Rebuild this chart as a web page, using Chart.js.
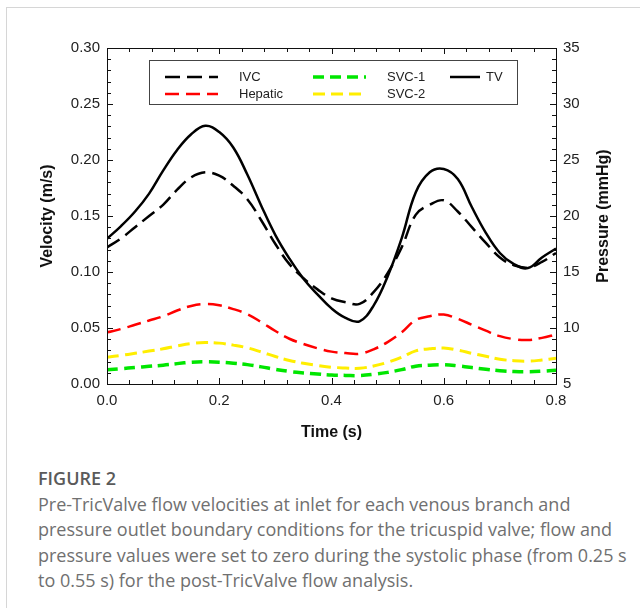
<!DOCTYPE html>
<html>
<head>
<meta charset="utf-8">
<script src="https://cdn.jsdelivr.net/npm/chart.js@4.4.0/dist/chart.umd.min.js"></script>
<style>
  body { margin: 0; background: #fff; width: 640px; height: 608px; overflow: hidden; position: relative; }
  .frame { position: absolute; left: 6px; top: 7px; width: 700px; height: 700px;
           border-left: 1px solid #d6d6d6; border-top: 1px solid #d6d6d6; }
  #wrap { position: absolute; left: 0; top: 0; width: 640px; height: 450px; }
  .cap { position: absolute; left: 38px; top: 466px; color: #707070; font-family: "Open Sans", sans-serif;
         font-size: 18px; line-height: 25.5px; white-space: nowrap; }
  .cap .fig { color: #5a5a5a; font-weight: 600; font-size: 18px; display: block; }
</style>
</head>
<body>
<div class="frame"></div>
<div id="wrap"><canvas id="myChart" width="640" height="450"></canvas></div>
<div class="cap">
  <span class="fig">FIGURE 2</span>
  Pre-TricValve flow velocities at inlet for each venous branch and<br>
  pressure outlet boundary conditions for the tricuspid valve; flow and<br>
  pressure values were set to zero during the systolic phase (from 0.25 s<br>
  to 0.55 s) for the post-TricValve flow analysis.
</div>
<script>
// time (s)
const times = [0, 0.025, 0.05, 0.075, 0.1, 0.125, 0.15, 0.175, 0.2, 0.225, 0.25, 0.275, 0.3, 0.325,
  0.35, 0.375, 0.4, 0.425, 0.45, 0.475, 0.5, 0.525, 0.55, 0.575, 0.6, 0.625, 0.65, 0.675,
  0.7, 0.725, 0.75, 0.775, 0.8];

// velocities (m/s)
const ivc = [0.122, 0.130, 0.140, 0.150, 0.160, 0.1735, 0.1845, 0.189, 0.186, 0.177, 0.165, 0.146, 0.125,
  0.107, 0.0945, 0.0845, 0.0765, 0.073, 0.0715, 0.082, 0.099, 0.122, 0.151, 0.160, 0.164, 0.154,
  0.140, 0.126, 0.113, 0.106, 0.104, 0.109, 0.117];
const hepatic = [0.0461, 0.0491, 0.0529, 0.0567, 0.0605, 0.0656, 0.0697, 0.0714, 0.0703, 0.0669, 0.0624,
  0.0552, 0.0473, 0.0404, 0.0357, 0.0319, 0.0289, 0.0276, 0.0270, 0.0310, 0.0374, 0.0461, 0.0571,
  0.0605, 0.0620, 0.0582, 0.0529, 0.0476, 0.0427, 0.0401, 0.0393, 0.0412, 0.0442];
const svc1 = [0.0128, 0.0137, 0.0147, 0.0158, 0.0168, 0.0182, 0.0194, 0.0198, 0.0195, 0.0186, 0.0173,
  0.0153, 0.0131, 0.0112, 0.0099, 0.0089, 0.0080, 0.0077, 0.0075, 0.0086, 0.0104, 0.0128, 0.0159,
  0.0168, 0.0172, 0.0162, 0.0147, 0.0132, 0.0119, 0.0111, 0.0109, 0.0114, 0.0123];
const svc2 = [0.0239, 0.0255, 0.0274, 0.0294, 0.0314, 0.0340, 0.0362, 0.0370, 0.0365, 0.0347, 0.0323,
  0.0286, 0.0245, 0.0210, 0.0185, 0.0166, 0.0150, 0.0143, 0.0140, 0.0161, 0.0194, 0.0239, 0.0296,
  0.0314, 0.0321, 0.0302, 0.0274, 0.0247, 0.0221, 0.0208, 0.0204, 0.0214, 0.0229];

// tricuspid valve pressure (mmHg)
const tv = [17.97, 19.1, 20.4, 22.0, 24.05, 25.9, 27.3, 28.06, 27.5, 26.12, 23.7, 20.9, 18.3, 16.2,
  14.4, 13.0, 11.75, 10.9, 10.6, 12.0, 14.6, 18.0, 22.1, 23.9, 24.2, 23.3, 20.8, 18.5, 16.7, 15.7,
  15.35, 16.3, 17.1];

const velTicks = [0, 0.05, 0.1, 0.15, 0.2, 0.25, 0.3];
const presTicks = [5, 10, 15, 20, 25, 30, 35];
const timeTicks = [0, 0.2, 0.4, 0.6, 0.8];

const pts = arr => arr.map((v, i) => ({x: times[i], y: v}));
const FONT = '"Liberation Sans", Arial, sans-serif';

// frame, inward ticks, axis titles and legend box
const decorations = {
  id: 'decorations',
  afterDraw(chart) {
    const {ctx, chartArea: a, scales} = chart;
    ctx.save();
    ctx.strokeStyle = '#111';
    ctx.lineWidth = 1;
    ctx.strokeRect(Math.round(a.left) + 0.5, Math.round(a.top) + 0.5,
      Math.round(a.right - a.left), Math.round(a.bottom - a.top));

    const line = (x1, y1, x2, y2) => { ctx.beginPath(); ctx.moveTo(x1, y1); ctx.lineTo(x2, y2); ctx.stroke(); };
    for (let i = 0; i <= 20; i++) {
      const x = Math.round(scales.x.getPixelForValue(i * 0.04)) + 0.5;
      const len = i % 5 === 0 ? 6 : 4;
      line(x, a.bottom, x, a.bottom - len);
      line(x, a.top, x, a.top + len);
    }
    for (let i = 0; i <= 30; i++) {
      const y = Math.round(scales.y.getPixelForValue(i * 0.01)) + 0.5;
      line(a.left, y, a.left + (i % 5 === 0 ? 6 : 4), y);
    }
    for (let p = 5; p <= 35; p++) {
      const y = Math.round(scales.y1.getPixelForValue(p)) + 0.5;
      line(a.right, y, a.right - (p % 5 === 0 ? 6 : 4), y);
    }

    // axis titles
    const midY = (a.top + a.bottom) / 2;
    ctx.fillStyle = '#111';
    ctx.font = 'bold 16px ' + FONT;
    ctx.textAlign = 'center';
    ctx.textBaseline = 'middle';
    ctx.fillText('Time (s)', (a.left + a.right) / 2, 433);
    ctx.save(); ctx.translate(48, midY); ctx.rotate(-Math.PI / 2); ctx.fillText('Velocity (m/s)', 0, 0); ctx.restore();
    ctx.save(); ctx.translate(604, midY); ctx.rotate(-Math.PI / 2); ctx.fillText('Pressure (mmHg)', 0, 0); ctx.restore();

    // legend
    ctx.fillStyle = '#fff';
    ctx.fillRect(149, 60, 368, 44);
    ctx.strokeStyle = '#444';
    ctx.strokeRect(149.5, 60.5, 368, 44);
    const slots = [
      {x1: 165, x2: 218, tx: 239, y: 77},
      {x1: 165, x2: 218, tx: 239, y: 94},
      {x1: 313, x2: 366, tx: 387, y: 77},
      {x1: 313, x2: 366, tx: 387, y: 94},
      {x1: 450, x2: 480, tx: 486, y: 77}
    ];
    ctx.font = '13px ' + FONT;
    ctx.textAlign = 'left';
    chart.data.datasets.forEach((ds, i) => {
      const s = slots[i];
      ctx.strokeStyle = ds.borderColor;
      ctx.lineWidth = ds.borderWidth;
      ctx.setLineDash(ds.borderDash || []);
      line(s.x1, s.y, s.x2, s.y);
      ctx.setLineDash([]);
      ctx.fillStyle = '#222';
      ctx.fillText(ds.label, s.tx, s.y);
    });
    ctx.restore();
  }
};

const ctx = document.getElementById('myChart').getContext('2d');
const chart = new Chart(ctx, {
  type: 'line',
  data: {
    datasets: [
      {label: 'IVC', data: pts(ivc), yAxisID: 'y', borderColor: '#000', borderWidth: 2.5, borderDash: [15, 7]},
      {label: 'Hepatic', data: pts(hepatic), yAxisID: 'y', borderColor: '#ff0000', borderWidth: 2.5, borderDash: [14, 7]},
      {label: 'SVC-1', data: pts(svc1), yAxisID: 'y', borderColor: '#00e600', borderWidth: 3.5, borderDash: [11, 6]},
      {label: 'SVC-2', data: pts(svc2), yAxisID: 'y', borderColor: '#ffee00', borderWidth: 3, borderDash: [12, 6]},
      {label: 'TV', data: pts(tv), yAxisID: 'y1', borderColor: '#000', borderWidth: 2.5}
    ]
  },
  options: {
    responsive: false,
    animation: false,
    layout: {padding: {top: 48, left: 0, right: 0, bottom: 0}},
    elements: {point: {radius: 0}, line: {tension: 0.4, fill: false}},
    plugins: {legend: {display: false}, tooltip: {enabled: false}},
    scales: {
      x: {
        type: 'linear', min: 0, max: 0.8,
        afterFit: s => { s.height = 66; },
        grid: {display: false, drawTicks: false}, border: {display: false},
        afterBuildTicks: s => { s.ticks = timeTicks.map(v => ({value: v})); },
        ticks: {padding: 8, color: '#222', font: {family: FONT, size: 15}, maxRotation: 0,
                callback: v => v.toFixed(1)}
      },
      y: {
        position: 'left', min: 0, max: 0.3,
        afterFit: s => { s.width = 107; },
        grid: {display: false, drawTicks: false}, border: {display: false},
        afterBuildTicks: s => { s.ticks = velTicks.map(v => ({value: v})); },
        ticks: {padding: 7, color: '#222', font: {family: FONT, size: 15}, callback: v => v.toFixed(2)}
      },
      y1: {
        position: 'right', min: 5, max: 35,
        afterFit: s => { s.width = 84; },
        grid: {display: false, drawTicks: false}, border: {display: false},
        afterBuildTicks: s => { s.ticks = presTicks.map(v => ({value: v})); },
        ticks: {padding: 7, color: '#222', font: {family: FONT, size: 15}, callback: v => String(v)}
      }
    }
  },
  plugins: [decorations]
});
</script>
</body>
</html>
